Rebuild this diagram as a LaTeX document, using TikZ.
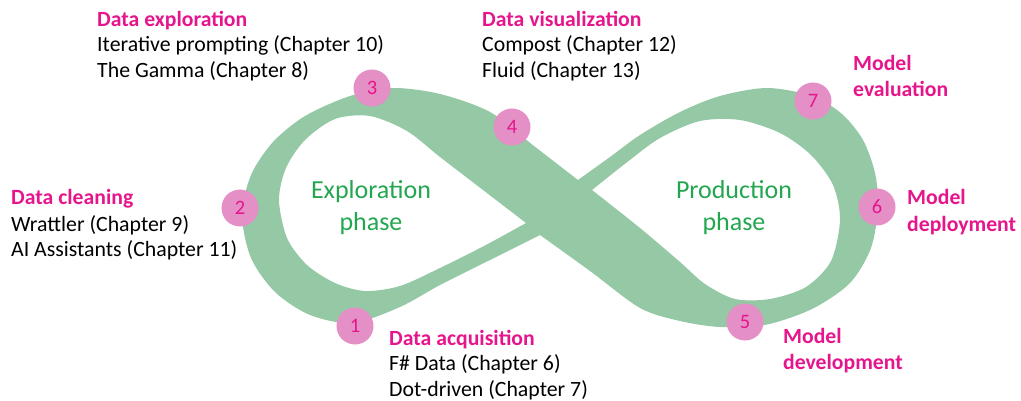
\documentclass[tikz,border=0pt]{standalone}
\usepackage{fontspec}
\setmainfont{Carlito}
\definecolor{band}{HTML}{95C8A4}
\definecolor{dot}{HTML}{E48FC6}
\definecolor{mag}{HTML}{E6158C}
\definecolor{phasegreen}{HTML}{22A64F}
\begin{document}
\begin{tikzpicture}[x=1pt,y=-1pt,
  dotc/.style={circle,fill=dot,minimum size=37pt,inner sep=0pt,text=mag,font=\fontsize{20.5}{22}\selectfont},
  head/.style={anchor=base west,inner sep=0pt,text=mag,font=\fontsize{21.7}{24}\selectfont\bfseries},
  body/.style={anchor=base west,inner sep=0pt,text=black,font=\fontsize{21.8}{24}\selectfont},
  phase/.style={anchor=base,inner sep=0pt,text=phasegreen,font=\fontsize{26}{30}\selectfont}]
\useasboundingbox (0,0) rectangle (1021,401);
\fill[band, even odd rule]
 plot[smooth] coordinates {(578,180) (610,157) (640,135) (680,112) (720,96) (767,88) (812,96) (842,114) (863,140) (875,173) (878,207) (871,248) (850,283) (812,309) (765,325) (720,327) (680,321) (640,308) (590,271) (540,235)}
 -- plot[smooth] coordinates {(540,235) (490,260) (440,285) (400,307) (353,323) (310,315) (275,292) (251,258) (242,215) (251,175) (273,142) (305,116) (350,96) (393,88) (440,94) (490,112) (534,146) (578,180)} -- cycle
 plot[smooth] coordinates {(526,223) (483,190) (440,157) (407,131) (370,116) (335,119) (305,140) (286,168) (279,200) (287,238) (307,265) (335,283) (365,291) (400,286) (440,268) (484,246) (526,223)} -- cycle
 plot[smooth] coordinates {(592,190) (626,163) (660,138) (700,121) (740,120) (780,133) (811,155) (833,185) (840,220) (831,261) (806,287) (770,299) (735,299) (705,284) (680,262) (640,228) (592,190)} -- cycle;
\node[dotc] (c1) at (355,326) {1};
\node[dotc] (c2) at (240,208) {2};
\node[dotc] (c3) at (372,88) {3};
\node[dotc] (c4) at (512,127) {4};
\node[dotc] (c5) at (745,322) {5};
\node[dotc] (c6) at (877,207) {6};
\node[dotc] (c7) at (813,101) {7};
\node[phase] (ep1) at (371,199) {Exploration};
\node[phase] (ep2) at (371,230) {phase};
\node[phase] (pp1) at (734,199) {Production};
\node[phase] (pp2) at (734,230) {phase};
\node[head] (h3) at (97,26.5) {Data exploration};
\node[body] (b3a) at (97,52) {Iterative prompting (Chapter 10)};
\node[body] (b3b) at (97,78) {The Gamma (Chapter 8)};
\node[head] (h4) at (482,26.5) {Data visualization};
\node[body] (b4a) at (482,52) {Compost (Chapter 12)};
\node[body] (b4b) at (482,78) {Fluid (Chapter 13)};
\node[head] (h2) at (11,205) {Data cleaning};
\node[body] (b2a) at (11,231) {Wrattler (Chapter 9)};
\node[body] (b2b) at (11,256) {AI Assistants (Chapter 11)};
\node[head] (h1) at (389,345) {Data acquisition};
\node[body] (b1a) at (389,370.5) {F\# Data (Chapter 6)};
\node[body] (b1b) at (389,396) {Dot-driven (Chapter 7)};
\node[head] (h7a) at (853,71) {Model};
\node[head] (h7b) at (853,97) {evaluation};
\node[head] (h6a) at (907,205) {Model};
\node[head] (h6b) at (907,231) {deployment};
\node[head] (h5a) at (783,343) {Model};
\node[head] (h5b) at (783,369) {development};
\end{tikzpicture}
\end{document}
